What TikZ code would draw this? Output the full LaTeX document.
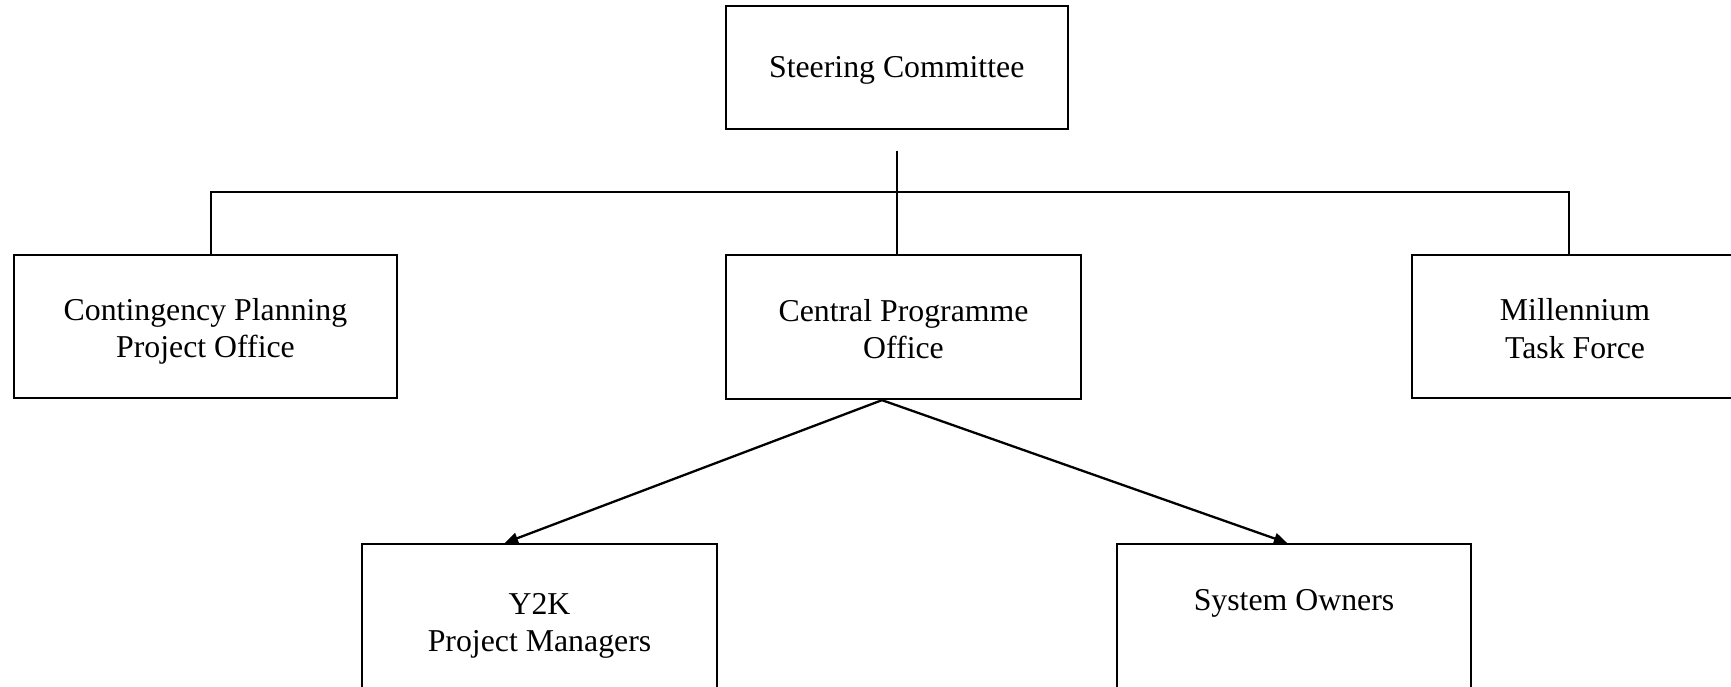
\documentclass[tikz,border=0pt]{standalone}
\usepackage{fontspec}
\setmainfont{Liberation Serif}
\usetikzlibrary{arrows.meta}
\begin{document}
\begin{tikzpicture}[x=1pt,y=-1pt,
  box/.style={draw,line width=2.3pt,rectangle,inner sep=0pt},
  txt/.style={inner sep=0pt,align=center,font=\fontsize{31.8}{37.5}\selectfont},
  conn/.style={line width=2.3pt},
  arr/.style={line width=2.3pt,-{Triangle[length=13pt,width=11pt]}}]
\useasboundingbox (0,0) rectangle (1731,686);
\clip (0,0) rectangle (1731,686);
\node[box,minimum width=342pt,minimum height=123pt] (sc) at (896.7,67.2) {};
\node[box,minimum width=383pt,minimum height=143pt] (cp) at (205.5,326.5) {};
\node[box,minimum width=355pt,minimum height=144pt] (cpo) at (903.5,327) {};
\node[box,minimum width=326pt,minimum height=143pt] (mtf) at (1575,326.5) {};
\node[box,minimum width=355pt,minimum height=155pt] (y2k) at (539.5,621.5) {};
\node[box,minimum width=354pt,minimum height=155pt] (so) at (1294,621.5) {};
\node[txt,yshift=-3pt] (sct) at (sc.center) {Steering Committee};
\node[txt,yshift=-5pt] (cpt) at (cp.center) {Contingency Planning\\Project Office};
\node[txt,yshift=-2.2pt] (cpot) at (cpo.center) {Central Programme\\Office};
\node[txt,yshift=-2pt] (mtft) at (mtf.center) {Millennium\\Task Force};
\node[txt,yshift=-4.4pt] (y2kt) at (y2k.center) {Y2K\\Project Managers};
\node[txt] (sot) at (1294,603.5) {System Owners};
\coordinate (j) at (896.7,150.7);
\coordinate (hl) at (210.7,191.7);
\coordinate (hr) at (1569,191.7);
\coordinate (apex) at (882,0 |- cpo.south);
\coordinate (tl) at (505,0 |- y2k.north);
\coordinate (tr) at (1287,0 |- so.north);
\draw[conn] (j) -- (j |- cpo.north);
\draw[conn] (hl |- cp.north) -- (hl) -- (hr) -- (hr |- mtf.north);
\draw[arr] (apex) -- (tl);
\draw[arr] (apex) -- (tr);
\end{tikzpicture}
\end{document}
